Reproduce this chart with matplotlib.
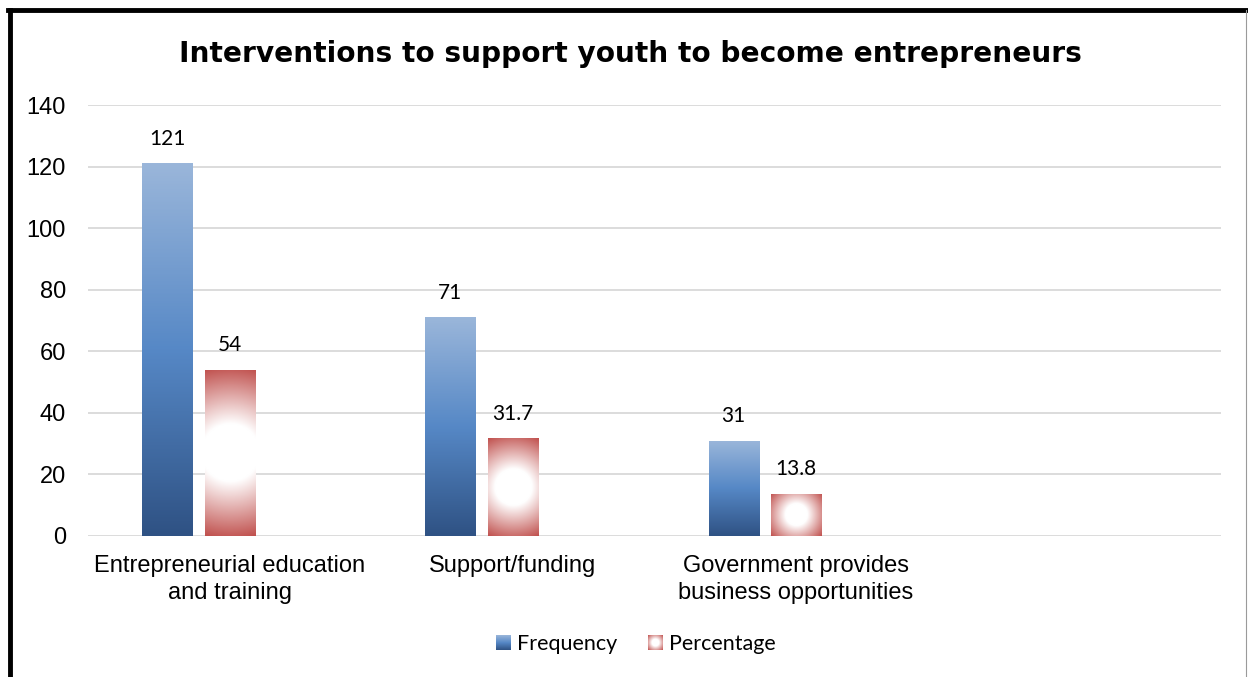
import numpy as np
import matplotlib
matplotlib.use("Agg")
import matplotlib.pyplot as plt
from matplotlib.colors import LinearSegmentedColormap
from matplotlib.lines import Line2D
from matplotlib.patches import Rectangle
from matplotlib.image import BboxImage
from matplotlib.transforms import Bbox, TransformedBbox
from matplotlib.legend_handler import HandlerBase

categories = ["Entrepreneurial education\nand training", "Support/funding",
              "Government provides\nbusiness opportunities", ""]
frequency = [121, 71, 31, np.nan]
percentage = [54, 31.7, 13.8, np.nan]
freq_labels = ["121", "71", "31"]
pct_labels = ["54", "31.7", "13.8"]

blue_cmap = LinearSegmentedColormap.from_list(
    "blue_grad", [(0.0, "#2f5284"), (0.5, "#5688c6"), (1.0, "#9ab6da")])
red_cmap = LinearSegmentedColormap.from_list(
    "red_grad", [(0.0, "#ffffff"), (0.33, "#ffffff"), (1.0, "#c0504d")])


def linear_grad(n=200):
    # bottom row dark, top row light (origin='lower')
    v = np.linspace(0, 1, n).reshape(-1, 1)
    return blue_cmap(np.repeat(v, 4, axis=1))


def radial_grad(w_px, h_px, n=200):
    xs = np.linspace(-w_px / 2, w_px / 2, n)
    ys = np.linspace(-h_px / 2, h_px / 2, n)
    X, Y = np.meshgrid(xs, ys)
    t = np.sqrt(X ** 2 + Y ** 2) / np.hypot(w_px / 2, h_px / 2)
    return red_cmap(np.clip(t, 0, 1))


W, H = 1248, 677
fig = plt.figure(figsize=(W / 100, H / 100), dpi=100)
ax = fig.add_axes([88 / W, 141 / H, 1133 / W, 431 / H])

x = np.arange(len(categories))
offset = 0.2207
width = 0.177
xlim = (-0.5, 3.5)
ylim = (0, 140)
px_x = 1133 / (xlim[1] - xlim[0])
px_y = 431 / (ylim[1] - ylim[0])

freq_bars = ax.bar(x - offset, frequency, width, color="none", zorder=2)
pct_bars = ax.bar(x, percentage, width, color="none", zorder=2)

for bar in freq_bars:
    if np.isnan(bar.get_height()):
        continue
    x0, y0 = bar.get_x(), bar.get_y()
    im = ax.imshow(linear_grad(), origin="lower", aspect="auto", interpolation="bilinear",
                   extent=(x0, x0 + bar.get_width(), y0, y0 + bar.get_height()), zorder=3)
    im.set_clip_path(bar)

for bar in pct_bars:
    if np.isnan(bar.get_height()):
        continue
    x0, y0 = bar.get_x(), bar.get_y()
    w, h = bar.get_width(), bar.get_height()
    im = ax.imshow(radial_grad(w * px_x, h * px_y), origin="lower", aspect="auto",
                   interpolation="bilinear", extent=(x0, x0 + w, y0, y0 + h), zorder=3)
    im.set_clip_path(bar)

value_font = dict(family="Lato", fontsize=15, color="#000000")
for bar, lab in zip(freq_bars, freq_labels):
    ax.annotate(lab, (bar.get_x() + bar.get_width() / 2, bar.get_height()),
                xytext=(0, 10.5), textcoords="offset points", ha="center", va="bottom", **value_font)
for bar, lab in zip(pct_bars, pct_labels):
    ax.annotate(lab, (bar.get_x() + bar.get_width() / 2, bar.get_height()),
                xytext=(0, 10.5), textcoords="offset points", ha="center", va="bottom", **value_font)

ax.set_xlim(*xlim)
ax.set_ylim(*ylim)
ax.set_yticks(np.arange(0, 141, 20))
ax.set_xticks(x)
ax.set_xticklabels(categories, family="Liberation Sans", fontsize=17, linespacing=1.31)
for lbl in ax.get_yticklabels():
    lbl.set_family("Liberation Sans")
    lbl.set_fontsize(17)
ax.tick_params(axis="both", length=0)
ax.tick_params(axis="y", pad=16)
ax.tick_params(axis="x", pad=13.5)
ax.grid(axis="y", color="#d9d9d9", linewidth=1.3)
ax.set_axisbelow(True)
for s in ax.spines.values():
    s.set_visible(False)

fig.text(0.505, 1 - 54 / H, "Interventions to support youth to become entrepreneurs",
         ha="center", va="center", family="DejaVu Sans", fontweight="bold", fontsize=20.2)


class GradientSquare(HandlerBase):
    def __init__(self, img):
        super().__init__()
        self.img = img

    def create_artists(self, legend, orig_handle, xdescent, ydescent, width, height,
                       fontsize, trans):
        side = height * 0.95
        x0 = width - side
        bb = Bbox.from_bounds(x0 - xdescent, -ydescent, side, side)
        bim = BboxImage(TransformedBbox(bb, trans), interpolation="bilinear", origin="lower")
        bim.set_data(self.img)
        return [bim]


h_freq = Rectangle((0, 0), 1, 1)
h_pct = Rectangle((0, 0), 1, 1)
fig.legend([h_freq, h_pct], ["Frequency", "Percentage"], loc="center",
           bbox_to_anchor=(0.509, 1 - 644 / H), ncol=2, frameon=False,
           prop=dict(family="Lato", size=15.5), handlelength=0.75, handletextpad=0.3,
           columnspacing=1.35,
           handler_map={h_freq: GradientSquare(linear_grad()),
                        h_pct: GradientSquare(radial_grad(14, 14))})

# frame lines around the chart area
fig.add_artist(Line2D([8 / W, 1.0], [1 - 10 / H, 1 - 10 / H], color="black", linewidth=3.5,
                      transform=fig.transFigure, solid_capstyle="projecting"))
fig.add_artist(Line2D([10 / W, 10 / W], [0, 1 - 10 / H], color="black", linewidth=3.5,
                      transform=fig.transFigure, solid_capstyle="projecting"))
fig.add_artist(Line2D([1246 / W, 1246 / W], [0, 1 - 10 / H], color="#9a9a9a", linewidth=0.8,
                      transform=fig.transFigure))

fig.savefig("out.png", dpi=100, facecolor="white")
